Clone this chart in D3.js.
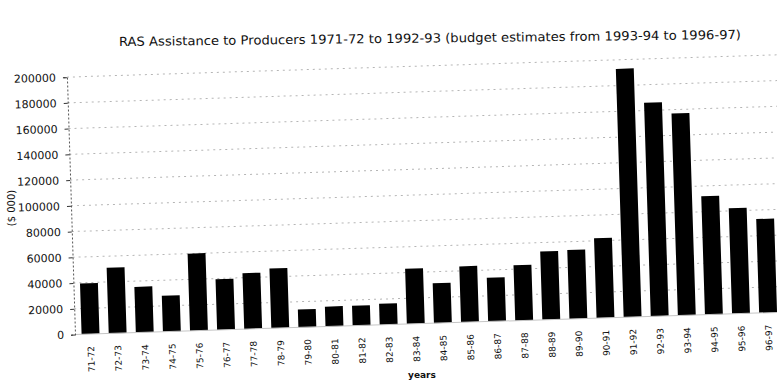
<!DOCTYPE html>
<html>
<head>
<meta charset="utf-8">
<script src="https://cdn.jsdelivr.net/npm/d3@7"></script>
<style>
  html, body { margin: 0; padding: 0; background: #fff; }
  svg { display: block; }
</style>
</head>
<body>
<div id="chart"></div>
<script>
const titleText = "RAS Assistance to Producers 1971-72 to 1992-93 (budget estimates from 1993-94 to 1996-97)";
const yAxisTitle = "($ 000)";
const xAxisTitle = "years";
const categories = ["71-72","72-73","73-74","74-75","75-76","76-77","77-78","78-79","79-80","80-81","81-82","82-83","83-84","84-85","85-86","86-87","87-88","88-89","89-90","90-91","91-92","92-93","93-94","94-95","95-96","96-97"];
const values = [39500,51000,35500,28000,60000,39500,43500,46500,14000,15500,15500,16500,43000,31000,43500,34000,43000,53000,53500,62000,193000,166000,157000,92000,82000,73000];
const yTicks = [0,20000,40000,60000,80000,100000,120000,140000,160000,180000,200000];

const W = 777, H = 381;
const ox = 75, oy = 334.5;
const svg = d3.select("#chart").append("svg").attr("width", W).attr("height", H);
svg.append("rect").attr("width", W).attr("height", H).attr("fill", "#fff");

const x = d3.scaleBand().domain(categories).range([77, 782]).paddingInner(0.34).paddingOuter(0.17);
const y = d3.scaleLinear().domain([0, 200000]).range([oy, 77]);

const g = svg.append("g").attr("transform", `rotate(-1.8, ${ox}, ${oy})`);

// gridlines
g.append("g").selectAll("line").data(yTicks.slice(1)).join("line")
  .attr("x1", ox).attr("x2", 800)
  .attr("y1", d => y(d)).attr("y2", d => y(d))
  .attr("stroke", "#b5b5b5").attr("stroke-width", 1)
  .attr("stroke-dasharray", "2,4");

// bars
g.append("g").selectAll("rect").data(values).join("rect")
  .attr("x", (d, i) => x(categories[i]))
  .attr("width", x.bandwidth())
  .attr("y", d => y(d))
  .attr("height", d => y(0) - y(d))
  .attr("fill", "#000");

// baseline
g.append("line").attr("x1", ox).attr("x2", 800).attr("y1", oy).attr("y2", oy)
  .attr("stroke", "#c5c5c5").attr("stroke-width", 1);

// y axis
const yAxis = d3.axisLeft(y).tickValues(yTicks).tickSize(4).tickPadding(7).tickFormat(d3.format("d"));
const ya = g.append("g").attr("transform", `translate(${ox},0)`).call(yAxis);
ya.select(".domain").attr("stroke", "#555").attr("stroke-dasharray", "2,2");
ya.selectAll(".tick line").attr("stroke", "#333");
ya.selectAll(".tick text").attr("font-family", "DejaVu Sans, sans-serif").attr("font-size", 11).attr("fill", "#111");

// x axis
const xAxis = d3.axisBottom(x).tickSize(0).tickPadding(8);
const xa = g.append("g").attr("transform", `translate(0,${oy})`).call(xAxis);
xa.select(".domain").remove();
xa.selectAll(".tick text")
  .attr("font-family", "DejaVu Sans, sans-serif").attr("font-size", 9).attr("fill", "#111")
  .attr("transform", "rotate(-90)")
  .attr("text-anchor", "end")
  .attr("x", -12).attr("y", 0)
  .attr("dy", "0.35em");

// y axis title
svg.append("text")
  .attr("transform", "translate(15,208) rotate(-90)")
  .attr("text-anchor", "middle")
  .attr("font-family", "DejaVu Sans, sans-serif").attr("font-size", 10).attr("fill", "#111")
  .text(yAxisTitle);

// x axis title
svg.append("text")
  .attr("x", 422).attr("y", 378)
  .attr("text-anchor", "middle")
  .attr("font-family", "DejaVu Sans, sans-serif").attr("font-size", 9).attr("font-weight", "bold").attr("fill", "#111")
  .text(xAxisTitle);

// title
svg.append("text")
  .attr("transform", "rotate(-0.65, 119, 46)")
  .attr("x", 119).attr("y", 46)
  .attr("font-family", "DejaVu Sans, sans-serif").attr("font-size", 12.5).attr("fill", "#111")
  .attr("textLength", 622).attr("lengthAdjust", "spacingAndGlyphs")
  .text(titleText);
</script>
</body>
</html>
